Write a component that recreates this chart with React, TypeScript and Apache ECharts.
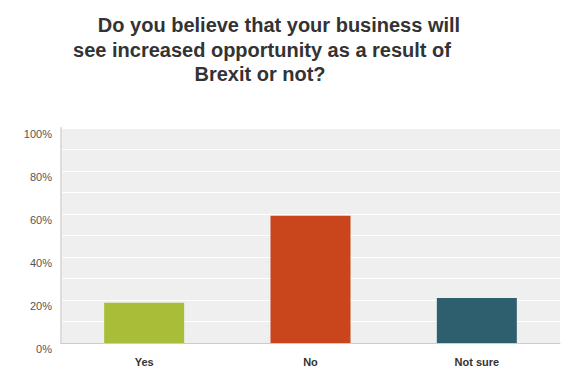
import React, { useEffect, useRef } from "react";
import * as echarts from "echarts";

const categories = ["Yes", "No", "Not sure"];
const values = [18.7, 59.2, 20.9];
const colors = ["#a9bd38", "#c9461c", "#2e5f6e"];
const titleLines = [
  "Do you believe that your business will",
  "see increased opportunity as a result of",
  "Brexit or not?",
];
const yTicks = [0, 20, 40, 60, 80, 100];

export default function App() {
  const ref = useRef<HTMLDivElement>(null);
  useEffect(() => {
    if (!ref.current) return;
    const chart = echarts.init(ref.current, null, { renderer: "svg" });
    const titleX = [279, 262, 260];
    chart.setOption({
      animation: false,
      backgroundColor: "#ffffff",
      graphic: titleLines.map((t, i) => ({
        type: "text",
        x: titleX[i],
        y: 25 + i * 24.5,
        style: {
          text: t,
          fill: "#333333",
          font: "bold 20px 'Liberation Sans', Arial, sans-serif",
          textAlign: "center",
          textVerticalAlign: "middle",
        },
      })),
      grid: { left: 61, right: 16, top: 128, bottom: 28, show: true, backgroundColor: "#efefef", borderWidth: 0 },
      xAxis: {
        type: "category",
        data: categories,
        axisLine: { lineStyle: { color: "#cccccc", width: 1 } },
        axisTick: { show: false },
        axisLabel: {
          color: "#333333",
          fontWeight: "bold",
          fontSize: 11,
          fontFamily: "'Liberation Sans', Arial, sans-serif",
          margin: 13,
        },
      },
      yAxis: [
        {
          type: "value",
          min: 0,
          max: 100,
          interval: 10,
          axisLine: { show: true, lineStyle: { color: "#dddddd", width: 2 } },
          axisTick: { show: false },
          splitLine: { lineStyle: { color: "#ffffff", width: 1 } },
          axisLabel: {
            color: "#555555",
            fontSize: 11,
            fontFamily: "'Liberation Sans', Arial, sans-serif",
            margin: 9,
            verticalAlign: "top",
            formatter: (v: number) => (yTicks.includes(v) ? v + "%" : ""),
          },
        },
      ],
      series: [
        {
          type: "bar",
          data: values.map((v, i) => ({ value: v, itemStyle: { color: colors[i] } })),
          barWidth: 80,
        },
      ],
    });
    return () => chart.dispose();
  }, []);
  return <div ref={ref} style={{ width: 576, height: 371, position: "absolute", left: 0, top: 0 }} />;
}
